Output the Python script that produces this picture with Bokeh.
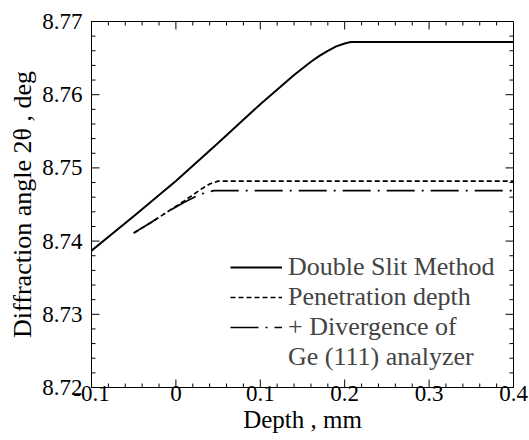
import numpy as np
from bokeh.plotting import figure
from bokeh.models import Range1d, SingleIntervalTicker, Legend, LegendItem
from bokeh.embed import file_html
from bokeh.resources import INLINE

# ---- data ----
depth_slit = [-0.1, -0.05, 0.0, 0.05, 0.1, 0.14, 0.16, 0.17, 0.18, 0.19, 0.2, 0.207, 0.4]
angle_slit = [8.7387, 8.7434, 8.7482, 8.7534, 8.7587, 8.7627, 8.7645, 8.7653, 8.7660,
              8.7666, 8.7670, 8.7672, 8.7672]

depth_pen = [-0.05, -0.03, -0.01, 0.01, 0.03, 0.04, 0.05, 0.4]
angle_pen = [8.7411, 8.7425, 8.7440, 8.7455, 8.7471, 8.7478, 8.7482, 8.7482]

depth_div = [-0.05, -0.03, -0.01, 0.01, 0.025, 0.035, 0.045, 0.4]
angle_div = [8.7411, 8.7425, 8.7440, 8.7453, 8.7462, 8.7466, 8.7469, 8.7469]

x_ticks = [-0.1, 0, 0.1, 0.2, 0.3, 0.4]
x_tick_labels = ["-0.1", "0", "0.1", "0.2", "0.3", "0.4"]
y_ticks = [8.72, 8.73, 8.74, 8.75, 8.76, 8.77]
y_tick_labels = ["8.72", "8.73", "8.74", "8.75", "8.76", "8.77"]

x_title = "Depth , mm"
y_title = "Diffraction angle 2θ , deg"
legend_labels = ["Double Slit Method", "Penetration depth", "+ Divergence of", "Ge (111) analyzer"]

FONT = "Liberation Serif"

x0, x1 = x_ticks[0], x_ticks[-1]
y0, y1 = y_ticks[0], y_ticks[-1]

p = figure(width=529, height=440, output_backend="svg", toolbar_location=None,
           x_range=Range1d(x0, x1), y_range=Range1d(y0, y1),
           min_border_left=91, min_border_right=16, min_border_top=21, min_border_bottom=53,
           background_fill_color="white", border_fill_color="white")
p.grid.visible = False
p.outline_line_color = "black"
p.outline_line_width = 1

r1 = p.line(depth_slit, angle_slit, line_color="black", line_width=2)
r2 = p.line(depth_pen, angle_pen, line_color="black", line_width=1.7, line_dash="5 3")
r3 = p.line(depth_div, angle_div, line_color="black", line_width=1.7, line_dash="28 7 2 7")
r4 = p.line([x1], [angle_div[-1]], line_alpha=0)

# inward tick marks along all four frame edges (markers are clipped to the frame)
def minor_between(ticks):
    out = []
    for a, b in zip(ticks[:-1], ticks[1:]):
        out.extend(np.linspace(a, b, 6)[1:-1].tolist())
    return out

x_minor = minor_between(x_ticks)
y_minor = minor_between(y_ticks)
TC = "black"
for yy in (y0, y1):
    p.scatter(x_ticks, [yy] * len(x_ticks), marker="dash", size=16, angle=np.pi / 2,
              line_color=TC, line_width=1)
    p.scatter(x_minor, [yy] * len(x_minor), marker="dash", size=8, angle=np.pi / 2,
              line_color=TC, line_width=1)
for xx in (x0, x1):
    p.scatter([xx] * len(y_ticks), y_ticks, marker="dash", size=16,
              line_color=TC, line_width=1)
    p.scatter([xx] * len(y_minor), y_minor, marker="dash", size=8,
              line_color=TC, line_width=1)

def style_axis(ax):
    ax.axis_line_color = "black"
    ax.major_tick_in = 0
    ax.major_tick_out = 0
    ax.minor_tick_in = 0
    ax.minor_tick_out = 0
    ax.major_label_text_font = FONT
    ax.major_label_text_color = "black"
    ax.axis_label_text_font = FONT
    ax.axis_label_text_font_style = "normal"
    ax.axis_label_text_color = "black"

xa = p.xaxis[0]
xa.ticker = SingleIntervalTicker(interval=0.1, num_minor_ticks=5)
style_axis(xa)
xa.major_label_text_font_size = "23px"
xa.major_label_standoff = -2
xa.major_label_overrides = {v: s for v, s in zip(x_ticks, x_tick_labels)}
xa.axis_label = x_title
xa.axis_label_text_font_size = "25px"
xa.axis_label_standoff = 2

ya = p.yaxis[0]
ya.ticker = SingleIntervalTicker(interval=0.01, num_minor_ticks=5)
style_axis(ya)
ya.major_label_text_font_size = "23px"
ya.major_label_standoff = 9
ya.major_label_overrides = {v: s for v, s in zip(y_ticks, y_tick_labels)}
ya.axis_label = y_title
ya.axis_label_text_font_size = "26px"
ya.axis_label_standoff = 2

legend = Legend(items=[LegendItem(label=legend_labels[0], renderers=[r1]),
                       LegendItem(label=legend_labels[1], renderers=[r2]),
                       LegendItem(label=legend_labels[2], renderers=[r3]),
                       LegendItem(label=legend_labels[3], renderers=[r4])],
                location=(139, 15), padding=0, margin=0, spacing=0,
                glyph_width=52, glyph_height=28, label_height=28, label_standoff=6,
                label_text_font=FONT, label_text_font_size="26px",
                border_line_color=None, background_fill_alpha=0)
p.add_layout(legend, "center")

open("out.html", "w").write(file_html(p, INLINE))
